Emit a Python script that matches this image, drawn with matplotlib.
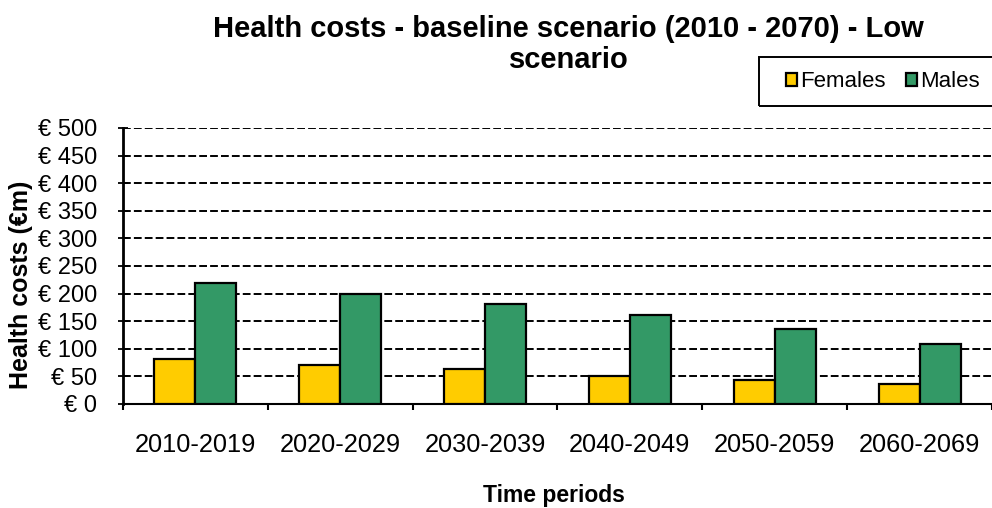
import matplotlib.pyplot as plt
from matplotlib.patches import Rectangle
import numpy as np

periods = ['2010-2019', '2020-2029', '2030-2039', '2040-2049', '2050-2059', '2060-2069']
females = [81, 70, 63, 51, 44, 37]
males = [219, 200, 182, 161, 135, 109]

plt.rcParams['font.family'] = ['Liberation Sans', 'DejaVu Sans']

W, H = 992, 508
fig = plt.figure(figsize=(W / 100, H / 100), dpi=100)
ax = fig.add_axes([123 / W, 1 - 404 / H, 1 - 123 / W, 276 / H])

x = np.arange(len(periods))
w = 0.283
ax.bar(x - w / 2, females, w, color='#FFCC00', edgecolor='black', linewidth=1.6,
       label='Females', zorder=3)
ax.bar(x + w / 2, males, w, color='#339966', edgecolor='black', linewidth=1.6,
       label='Males', zorder=3)

ax.set_xlim(-0.5, len(periods) - 0.5)
ax.set_ylim(0, 500)
yt = np.arange(0, 501, 50)
ax.set_yticks(yt)
ax.set_yticklabels(['€ %d' % v for v in yt], fontsize=17)
for v in yt[1:]:
    ax.axhline(v, color='black', linestyle=(0, (4, 1.6)), linewidth=1.4, zorder=1)

ax.set_xticks(x)
ax.set_xticklabels(periods, fontsize=18.3)
ax.set_xticks(np.arange(-0.5, len(periods)), minor=True)
ax.tick_params(axis='x', which='major', length=0, pad=21)
ax.tick_params(axis='x', which='minor', length=4.5, width=1.5, direction='out')
ax.tick_params(axis='y', length=7, width=1.3, direction='inout', pad=15)

for s in ['top', 'right']:
    ax.spines[s].set_visible(False)
ax.spines['left'].set_linewidth(2)
ax.spines['bottom'].set_linewidth(1.5)

fig.text(21 / W, 1 - 285 / H, 'Health costs (€m)', fontsize=18, fontweight='bold',
         rotation=90, ha='center', va='center')
fig.text(554 / W, 1 - 502 / H, 'Time periods', fontsize=16.5, fontweight='bold',
         ha='center', va='baseline')
fig.text(568.5 / W, 1 - 37 / H, 'Health costs - baseline scenario (2010 - 2070) - Low',
         fontsize=21, fontweight='bold', ha='center', va='baseline')
fig.text(568.5 / W, 1 - 68 / H, 'scenario',
         fontsize=21, fontweight='bold', ha='center', va='baseline')

# legend box runs off the right edge as in the original
fig.patches.append(Rectangle((759 / W, 1 - 106 / H), 260 / W, 49 / H,
                             transform=fig.transFigure, fill=False,
                             edgecolor='black', linewidth=1.4))
fig.legend(loc='center left', bbox_to_anchor=(779 / W, 1 - 82 / H), ncol=2,
           fontsize=16, frameon=False, handlelength=0.5, handleheight=0.5,
           handletextpad=0.15, columnspacing=0.9, borderpad=0.3, borderaxespad=0)

fig.savefig('out.png', dpi=100)
